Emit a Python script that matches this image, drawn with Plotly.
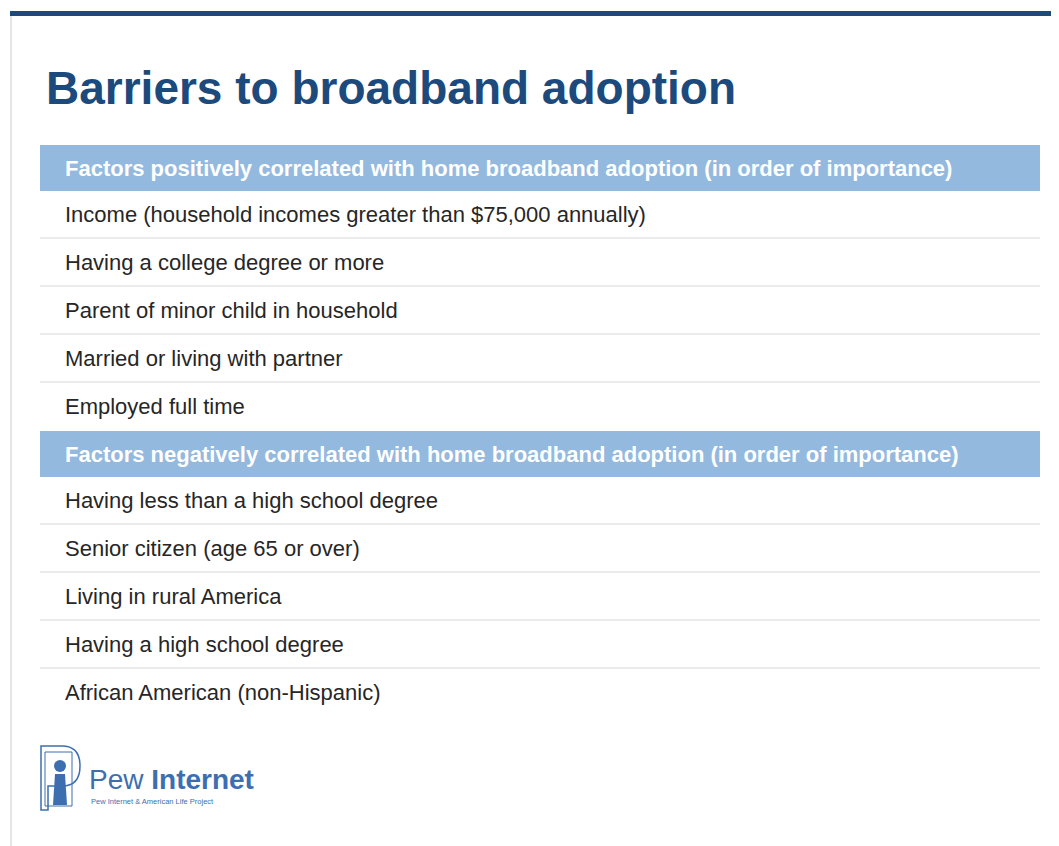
import plotly.graph_objects as go

# slide content
title = "Barriers to broadband adoption"
section_headers = [
    "Factors positively correlated with home broadband adoption (in order of importance)",
    "Factors negatively correlated with home broadband adoption (in order of importance)",
]
positive_factors = [
    "Income (household incomes greater than $75,000 annually)",
    "Having a college degree or more",
    "Parent of minor child in household",
    "Married or living with partner",
    "Employed full time",
]
negative_factors = [
    "Having less than a high school degree",
    "Senior citizen (age 65 or over)",
    "Living in rural America",
    "Having a high school degree",
    "African American (non-Hispanic)",
]

W, H = 1059, 846
OFF = 8  # page body margin shifts the figure by 8px
FONT = "Liberation Sans, Arial, Helvetica, sans-serif"
DARK_BLUE = "#1d4a7c"
BAND = "#93b9de"
SEP = "#d6d6d6"

fig = go.Figure()
shapes = []
annotations = []

# top rule and left border of the slide
shapes.append(dict(type="rect", x0=10, x1=W + 10, y0=11, y1=16, fillcolor=DARK_BLUE, line_width=0))
shapes.append(dict(type="line", x0=11, x1=11, y0=16, y1=H + 10, line=dict(color="#dcdcdc", width=1.5)))

annotations.append(dict(x=44, y=88, text=f"<b>{title}</b>", showarrow=False, xanchor="left",
                        yanchor="middle", font=dict(family=FONT, size=46, color=DARK_BLUE)))

# table: header band, then rows of 48px
left, right = 40, 1040
y = 145
for header, rows in zip(section_headers, [positive_factors, negative_factors]):
    shapes.append(dict(type="rect", x0=left, x1=right, y0=y, y1=y + 46, fillcolor=BAND, line_width=0))
    annotations.append(dict(x=63, y=y + 23, text=f"<b>{header}</b>", showarrow=False, xanchor="left",
                            yanchor="middle", font=dict(family=FONT, size=22, color="white")))
    y += 46
    for i, row in enumerate(rows):
        annotations.append(dict(x=63, y=y + 23, text=row, showarrow=False, xanchor="left",
                                yanchor="middle", font=dict(family=FONT, size=22, color="#262626")))
        if i < len(rows) - 1:
            shapes.append(dict(type="line", x0=left, x1=right, y0=y + 47, y1=y + 47,
                               line=dict(color=SEP, width=1)))
        y += 48

# Pew Internet logo
LOGO = "#3d6fb0"
shapes.append(dict(type="path", path="M 41 746 L 62 746 Q 80 746 80 766 Q 80 786 62 786 L 48 786 L 48 810 L 41 810 Z",
                   line=dict(color=LOGO, width=1.5), fillcolor="rgba(0,0,0,0)"))
shapes.append(dict(type="rect", x0=45, x1=72, y0=752, y1=806, line=dict(color=LOGO, width=1),
                   fillcolor="rgba(0,0,0,0)"))
shapes.append(dict(type="circle", x0=54, x1=66, y0=760, y1=772, fillcolor=LOGO, line_width=0))
shapes.append(dict(type="path", path="M 55 774 L 65 774 L 67 805 L 53 805 Z", fillcolor=LOGO, line_width=0))
annotations.append(dict(x=87, y=779, text="Pew <b>Internet</b>", showarrow=False, xanchor="left",
                        yanchor="middle", font=dict(family=FONT, size=28, color=LOGO)))
annotations.append(dict(x=89, y=801, text="Pew Internet & American Life Project", showarrow=False,
                        xanchor="left", yanchor="middle", font=dict(family=FONT, size=7.5, color=LOGO)))

for s in shapes:
    s.update(xref="x", yref="y", layer="below")
for a in annotations:
    a.update(xref="x", yref="y")

fig.update_layout(
    width=W, height=H,
    margin=dict(l=0, r=0, t=0, b=0),
    paper_bgcolor="white", plot_bgcolor="white",
    xaxis=dict(range=[OFF, W + OFF], visible=False, fixedrange=True),
    yaxis=dict(range=[H + OFF, OFF], visible=False, fixedrange=True),
    shapes=shapes, annotations=annotations,
    showlegend=False,
)

fig.write_html("out.html")
